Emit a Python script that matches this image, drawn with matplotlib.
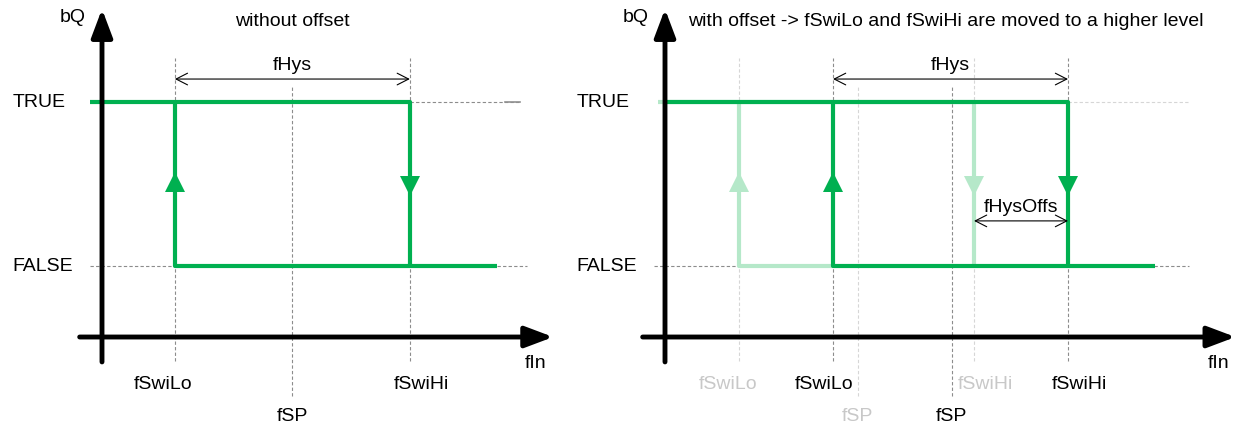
import matplotlib.pyplot as plt

plt.rcParams['font.family'] = ['Liberation Sans', 'DejaVu Sans']

# output levels
FALSE, TRUE = 0.0, 1.0

# left panel: without offset
left_lo, left_sp, left_hi = 0.62, 1.62, 2.62

# right panel: with offset (old = faded positions before shift)
old_lo, old_sp, old_hi = 0.63, 1.64, 2.63
new_lo, new_sp, new_hi = 1.43, 2.44, 3.43

titles = ['without offset', 'with offset -> fSwiLo and fSwiHi are moved to a higher level']

GREEN = '#00b050'
LIGHT_GREEN = '#b5e8c9'
DASH = '#8c8c8c'
LIGHT_DASH = '#d6d6d6'

# pixel scale of the drawing
ux, uy = 117.5, 164.0
fig = plt.figure(figsize=(12.42, 4.39), dpi=100)


def make_ax(rect, origin_px, width_px):
    ax = fig.add_axes(rect)
    ax.set_xlim(-origin_px / ux, (width_px - origin_px) / ux)
    ax.set_ylim((267 - 439) / uy, 267 / uy)
    ax.axis('off')
    return ax


def axes_arrows(ax, x_end):
    kw = dict(arrowstyle='-|>,head_length=0.85,head_width=0.32', lw=3.5,
              color='black', mutation_scale=20, shrinkA=0, shrinkB=0)
    ax.annotate('', xy=(0, 1.567), xytext=(0, -0.585), arrowprops=kw, zorder=6)
    ax.annotate('', xy=(x_end, -0.433), xytext=(-0.19, -0.433), arrowprops=kw, zorder=6)


def vguide(ax, x, y0, y1, color):
    ax.plot([x, x], [y0, y1], color=color, lw=0.8, ls=(0, (3, 2)), zorder=1)


def hguide(ax, x0, x1, y, color=DASH):
    ax.plot([x0, x1], [y, y], color=color, lw=0.8, ls=(0, (3, 2)), zorder=1)


def dim_arrow(ax, x0, x1, y, label, ty):
    ax.annotate('', xy=(x1, y), xytext=(x0, y),
                arrowprops=dict(arrowstyle='<->,head_length=0.55,head_width=0.28',
                                lw=0.8, color='black', mutation_scale=15,
                                shrinkA=0, shrinkB=0), zorder=5)
    ax.text((x0 + x1) / 2, ty, label, ha='center', va='center', fontsize=14)


def loop(ax, lo, hi, x_start, x_end, color, z):
    ax.plot([x_start, hi, hi], [TRUE, TRUE, FALSE], color=color, lw=3,
            solid_capstyle='butt', zorder=z)
    ax.plot([lo, lo, x_end], [TRUE, FALSE, FALSE], color=color, lw=3,
            solid_capstyle='butt', zorder=z)
    ax.plot([lo], [0.51], marker='^', ms=14, color=color, mew=0, zorder=z)
    ax.plot([hi], [0.49], marker='v', ms=14, color=color, mew=0, zorder=z)


def level_labels(ax, x):
    ax.text(x, TRUE, 'TRUE', ha='left', va='center', fontsize=14)
    ax.text(x, FALSE, 'FALSE', ha='left', va='center', fontsize=14)
    ax.text(-0.25, 1.52, 'bQ', ha='center', va='center', fontsize=14)


# ---------- left panel ----------
ax1 = make_ax([0, 0, 0.5, 1], 102, 621)
for x in (left_lo, left_hi):
    vguide(ax1, x, -0.58, 1.27, DASH)
vguide(ax1, left_sp, -0.79, 1.09, DASH)
hguide(ax1, left_hi, 3.56, TRUE)
ax1.plot([3.43, 3.56], [TRUE, TRUE], color='#909090', lw=1.2, zorder=1)
hguide(ax1, -0.1, left_lo, FALSE)
hguide(ax1, 3.36, 3.62, FALSE)
loop(ax1, left_lo, left_hi, -0.1, 3.36, GREEN, 3)
axes_arrows(ax1, 3.84)
dim_arrow(ax1, left_lo, left_hi, 1.14, 'fHys', 1.23)
level_labels(ax1, -0.76)
ax1.text(left_sp, 1.5, titles[0], ha='center', va='center', fontsize=14)
ax1.text(3.69, -0.59, 'fIn', ha='center', va='center', fontsize=14)
ax1.text(left_lo - 0.1, -0.715, 'fSwiLo', ha='center', va='center', fontsize=14)
ax1.text(left_hi + 0.1, -0.715, 'fSwiHi', ha='center', va='center', fontsize=14)
ax1.text(left_sp, -0.91, 'fSP', ha='center', va='center', fontsize=14)

# ---------- right panel ----------
ax2 = make_ax([0.5, 0, 0.5, 1], 665 - 621, 621)
for x in (old_lo, old_hi):
    vguide(ax2, x, -0.58, 1.27, LIGHT_DASH)
vguide(ax2, old_sp, -0.79, 1.09, LIGHT_DASH)
for x in (new_lo, new_hi):
    vguide(ax2, x, -0.58, 1.27, DASH)
vguide(ax2, new_sp, -0.79, 1.09, DASH)
hguide(ax2, new_hi, 4.46, TRUE, LIGHT_DASH)
hguide(ax2, -0.09, 4.46, FALSE)
loop(ax2, old_lo, old_hi, -0.06, new_lo, LIGHT_GREEN, 2)
loop(ax2, new_lo, new_hi, 0.0, 4.17, GREEN, 3)
axes_arrows(ax2, 4.855)
dim_arrow(ax2, new_lo, new_hi, 1.14, 'fHys', 1.23)
dim_arrow(ax2, old_hi, new_hi, 0.275, 'fHysOffs', 0.365)
level_labels(ax2, -0.75)
ax2.text(0.2, 1.5, titles[1], ha='left', va='center', fontsize=14)
ax2.text(4.71, -0.59, 'fIn', ha='center', va='center', fontsize=14)
ax2.text(old_lo - 0.09, -0.715, 'fSwiLo', ha='center', va='center', fontsize=14, color='#c8c8c8')
ax2.text(new_lo - 0.08, -0.715, 'fSwiLo', ha='center', va='center', fontsize=14)
ax2.text(old_hi + 0.1, -0.715, 'fSwiHi', ha='center', va='center', fontsize=14, color='#c8c8c8')
ax2.text(new_hi + 0.1, -0.715, 'fSwiHi', ha='center', va='center', fontsize=14)
ax2.text(old_sp, -0.91, 'fSP', ha='center', va='center', fontsize=14, color='#c8c8c8')
ax2.text(new_sp, -0.91, 'fSP', ha='center', va='center', fontsize=14)

fig.savefig('out.png', dpi=100, facecolor='white')
